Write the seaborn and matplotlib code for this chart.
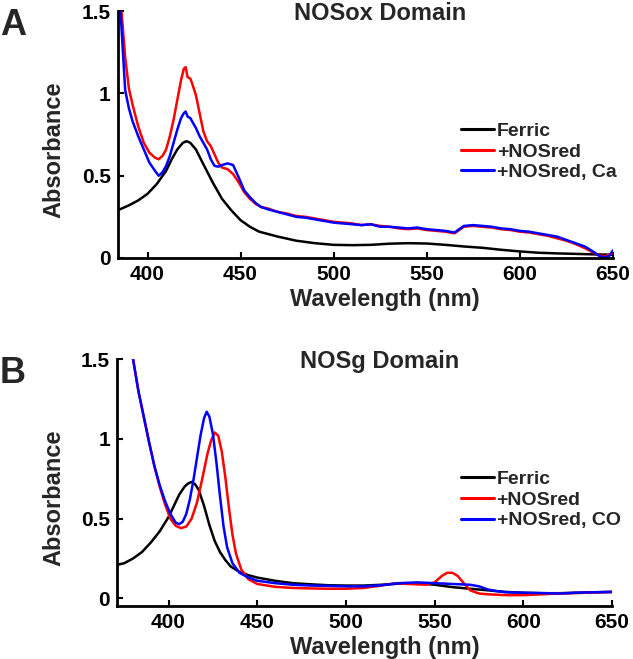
import numpy as np
import pandas as pd
import seaborn as sns
import matplotlib
matplotlib.use("Agg")
import matplotlib.pyplot as plt

# ─── Panel A : NOSox domain ─────────────────────────────────────────────────
wl_a_ferric = [384, 390, 395, 400, 405, 410, 413, 416, 419, 421, 423, 426, 430,
               435, 440, 445, 450, 455, 460, 470, 480, 490, 500, 510, 520, 530,
               540, 550, 560, 570, 580, 590, 600, 610, 620, 630, 640, 650]
abs_a_ferric = [0.29, 0.32, 0.35, 0.39, 0.45, 0.53, 0.60, 0.66, 0.70, 0.71, 0.70,
                0.66, 0.57, 0.46, 0.36, 0.29, 0.23, 0.19, 0.16, 0.13, 0.105, 0.09,
                0.08, 0.078, 0.08, 0.087, 0.09, 0.088, 0.08, 0.07, 0.062, 0.05,
                0.04, 0.032, 0.028, 0.025, 0.022, 0.02]

wl_a_red = [386, 388, 390, 392, 395, 398, 401, 404, 406, 408, 410, 412, 414, 416,
            418, 419.5, 420.5, 421.5, 423, 424, 426, 428, 430, 432, 434, 436, 438,
            440, 443, 446, 449, 452, 455, 458, 461, 465, 470, 475, 480, 485, 490,
            495, 500, 505, 510, 515, 520, 525, 530, 535, 540, 545, 550, 555, 560,
            565, 570, 575, 580, 585, 590, 595, 600, 605, 610, 615, 620, 625, 630,
            635, 640, 643, 646, 648, 650]
abs_a_red = [1.50, 1.22, 1.03, 0.93, 0.80, 0.70, 0.64, 0.61, 0.60, 0.62, 0.66, 0.74,
             0.84, 0.96, 1.08, 1.15, 1.16, 1.10, 1.09, 1.06, 0.99, 0.88, 0.77, 0.71,
             0.68, 0.63, 0.58, 0.55, 0.54, 0.51, 0.46, 0.40, 0.36, 0.33, 0.31, 0.30,
             0.28, 0.27, 0.255, 0.25, 0.24, 0.23, 0.22, 0.215, 0.21, 0.20, 0.205,
             0.195, 0.19, 0.18, 0.175, 0.18, 0.17, 0.165, 0.16, 0.15, 0.19, 0.195,
             0.19, 0.185, 0.175, 0.17, 0.16, 0.155, 0.145, 0.135, 0.12, 0.105,
             0.085, 0.06, 0.03, 0.015, 0.01, 0.02, 0.03]

wl_a_ca = [385.5, 388, 390, 392, 395, 398, 401, 404, 406, 408, 410, 412, 414, 416,
           418, 419.5, 420.5, 421.5, 423, 424, 426, 428, 430, 432, 434, 436, 438,
           440, 443, 446, 449, 452, 455, 458, 461, 465, 470, 475, 480, 485, 490,
           495, 500, 505, 510, 515, 520, 525, 530, 535, 540, 545, 550, 555, 560,
           565, 570, 575, 580, 585, 590, 595, 600, 605, 610, 615, 620, 625, 630,
           635, 640, 643, 646, 648, 650]
abs_a_ca = [1.50, 1.02, 0.91, 0.83, 0.74, 0.66, 0.58, 0.53, 0.50, 0.52, 0.56, 0.62,
            0.70, 0.78, 0.85, 0.88, 0.89, 0.86, 0.85, 0.83, 0.79, 0.74, 0.70, 0.66,
            0.60, 0.56, 0.555, 0.565, 0.575, 0.565, 0.49, 0.41, 0.37, 0.335, 0.31,
            0.295, 0.28, 0.265, 0.25, 0.245, 0.235, 0.225, 0.215, 0.21, 0.205, 0.20,
            0.205, 0.19, 0.19, 0.185, 0.18, 0.185, 0.175, 0.17, 0.165, 0.155, 0.195,
            0.20, 0.195, 0.19, 0.18, 0.175, 0.165, 0.16, 0.15, 0.14, 0.13, 0.11,
            0.09, 0.07, 0.035, 0.01, 0.005, 0.01, 0.045]

# ─── Panel B : NOSg domain ──────────────────────────────────────────────────
wl_b_ferric = [371, 375, 380, 385, 390, 395, 400, 403, 406, 409, 411, 413, 415, 417,
               420, 423, 426, 429, 432, 435, 440, 445, 450, 460, 470, 480, 490, 500,
               510, 520, 530, 540, 550, 560, 570, 580, 590, 600, 610, 620, 630, 640,
               650]
abs_b_ferric = [0.21, 0.22, 0.25, 0.29, 0.35, 0.42, 0.51, 0.58, 0.65, 0.70, 0.72,
                0.73, 0.715, 0.68, 0.58, 0.46, 0.36, 0.29, 0.24, 0.20, 0.165, 0.145,
                0.13, 0.11, 0.095, 0.088, 0.082, 0.08, 0.08, 0.085, 0.092, 0.095,
                0.085, 0.07, 0.06, 0.05, 0.04, 0.035, 0.032, 0.032, 0.035, 0.038,
                0.04]

wl_b_red = [380, 383, 386, 389, 392, 395, 398, 401, 404, 407, 410, 413, 416, 419,
            422, 424, 426, 428, 430, 432, 434, 436, 438, 441, 445, 450, 460, 470,
            480, 490, 500, 510, 520, 528, 535, 545, 550, 554, 557, 560, 563, 566,
            570, 575, 580, 590, 600, 610, 620, 630, 640, 650]
abs_b_red = [1.50, 1.30, 1.14, 0.98, 0.83, 0.70, 0.59, 0.50, 0.455, 0.44, 0.45, 0.50,
             0.60, 0.75, 0.91, 0.99, 1.04, 1.02, 0.92, 0.76, 0.57, 0.40, 0.28, 0.18,
             0.12, 0.09, 0.072, 0.065, 0.062, 0.06, 0.06, 0.065, 0.08, 0.095, 0.09,
             0.085, 0.10, 0.14, 0.16, 0.16, 0.14, 0.10, 0.05, 0.03, 0.025, 0.02,
             0.02, 0.025, 0.03, 0.033, 0.037, 0.04]

wl_b_co = [380, 383, 386, 389, 392, 395, 398, 401, 404, 406, 408, 410, 412, 414,
           416, 418, 420, 421.5, 423, 425, 427, 429, 431, 433, 436, 440, 445, 450,
           460, 470, 480, 490, 500, 510, 520, 530, 540, 550, 560, 570, 575, 580,
           585, 590, 600, 610, 620, 630, 640, 650]
abs_b_co = [1.50, 1.30, 1.14, 0.98, 0.83, 0.71, 0.61, 0.53, 0.475, 0.465, 0.48,
            0.53, 0.62, 0.74, 0.88, 1.02, 1.13, 1.17, 1.14, 1.03, 0.85, 0.64, 0.45,
            0.32, 0.22, 0.16, 0.13, 0.11, 0.095, 0.085, 0.08, 0.078, 0.075, 0.075,
            0.082, 0.095, 0.10, 0.095, 0.09, 0.085, 0.075, 0.055, 0.045, 0.038,
            0.035, 0.033, 0.03, 0.035, 0.038, 0.04]

xticks = [400, 450, 500, 550, 600, 650]
yticks = [0, 0.5, 1, 1.5]
ytick_labels = ["0", "0.5", "1", "1.5"]

# ─── Style ──────────────────────────────────────────────────────────────────
sns.set_style("ticks")
plt.rcParams["font.family"] = ["Liberation Sans", "DejaVu Sans"]
plt.rcParams["font.weight"] = "bold"
plt.rcParams["axes.labelweight"] = "bold"

PALETTE = ["#000000", "#FF0000", "#0000FF"]


def _long(series):
    frames = []
    for name, x, y in series:
        frames.append(pd.DataFrame({"wl": x, "abs": y, "sample": name}))
    return pd.concat(frames, ignore_index=True)


def draw_panel(ax, df, labels, title, letter, xlim, ylim):
    sns.lineplot(data=df, x="wl", y="abs", hue="sample", hue_order=labels,
                 palette=PALETTE, linewidth=1.8, sort=False, estimator=None,
                 ax=ax, legend=False)
    ax.set_xlim(*xlim)
    ax.set_ylim(*ylim)
    ax.set_xticks(xticks)
    ax.set_yticks(yticks)
    ax.set_yticklabels(ytick_labels)
    sns.despine(ax=ax)
    for s in ("left", "bottom"):
        ax.spines[s].set_linewidth(2.0)
        ax.spines[s].set_color("black")
    ax.tick_params(direction="in", length=4, width=1.5, labelsize=15, pad=5,
                   colors="black")
    for t in ax.get_xticklabels() + ax.get_yticklabels():
        t.set_fontweight("bold")

    ax.set_xlabel("Wavelength (nm)", fontsize=17, fontweight="bold")
    ax.set_ylabel("Absorbance", fontsize=17, fontweight="bold")
    ax.xaxis.set_label_coords(0.54, -0.12)
    ax.yaxis.set_label_coords(-0.105, 0.44)

    ax.text(0.53, 0.99, title, transform=ax.transAxes, ha="center", va="center",
            fontsize=17, fontweight="bold")

    handles = [plt.Line2D([], [], color=c, lw=2.2) for c in PALETTE]
    ax.legend(handles, labels, loc="center left", bbox_to_anchor=(0.694, 0.43),
              frameon=False, handlelength=1.7, handletextpad=0.15,
              labelspacing=0.15, borderpad=0, borderaxespad=0,
              prop={"weight": "bold", "size": 14})

    ax.figure.text(0.0, ax.get_position().y1 + 0.005, letter, ha="left", va="top",
                   fontsize=26, fontweight="bold")


fig = plt.figure(figsize=(6.33, 6.59), dpi=100)
ax_a = fig.add_axes([0.186, 0.6085, 0.782, 0.3745])
ax_b = fig.add_axes([0.185, 0.080, 0.782, 0.375])

labels_a = ["Ferric", "+NOSred", "+NOSred, Ca"]
df_a = _long([(labels_a[0], wl_a_ferric, abs_a_ferric),
              (labels_a[1], wl_a_red, abs_a_red),
              (labels_a[2], wl_a_ca, abs_a_ca)])
draw_panel(ax_a, df_a, labels_a, "NOSox Domain", "A", (384, 650), (0, 1.5))

labels_b = ["Ferric", "+NOSred", "+NOSred, CO"]
df_b = _long([(labels_b[0], wl_b_ferric, abs_b_ferric),
              (labels_b[1], wl_b_red, abs_b_red),
              (labels_b[2], wl_b_co, abs_b_co)])
draw_panel(ax_b, df_b, labels_b, "NOSg Domain", "B", (371, 650), (-0.05, 1.5))

fig.savefig("out.png", dpi=100)
